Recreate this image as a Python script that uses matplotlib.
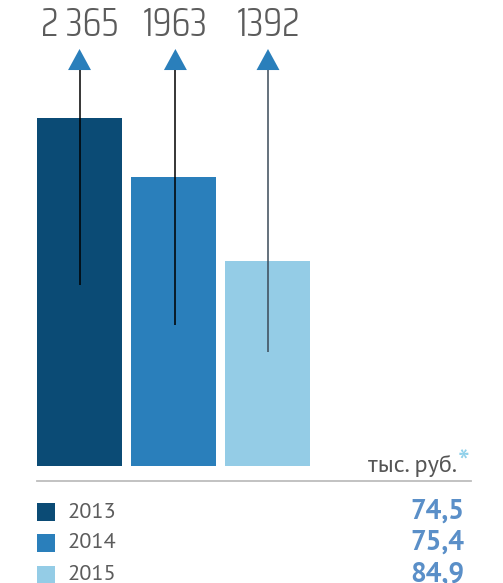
import matplotlib.pyplot as plt
from matplotlib.patches import Polygon

years = ["2013", "2014", "2015"]
totals = [2365, 1963, 1392]
total_labels = ["2 365", "1963", "1392"]
per_head = ["74,5", "75,4", "84,9"]
line_ends = [1230, 958, 775]   # where the pointer lines stop inside the bars
unit_label = "тыс. руб."

colors = ["#0b4b75", "#2a7fbb", "#94cce6"]
line_colors = ["#000000", "#000000", "#3a4a58"]
gray = "#5c5c5c"
value_blue = "#5a8fc8"
body_font = ["PT Sans", "DejaVu Sans"]

W, H = 503, 583
fig = plt.figure(figsize=(W / 100, H / 100), dpi=100)

# bar area: bottom of bars at y=466px, full figure width
ax = fig.add_axes([0, (H - 466) / H, 1, 466 / H])
ax.set_xlim(-0.846, 4.505)
ax.set_ylim(0, 3167)
ax.axis("off")

x = range(len(years))
ax.bar(x, totals, width=0.904, color=colors)

line_dx = [0.0, 0.02, 0.005]
tri_base, tri_top, tri_half = 2691, 2834, 0.122
for i in x:
    xc = i + line_dx[i]
    ax.plot([xc, xc], [line_ends[i], tri_base], color=line_colors[i], lw=1.1, solid_capstyle="butt")
    ax.add_patch(Polygon([[xc - tri_half, tri_base], [xc + tri_half, tri_base], [xc, tri_top]],
                         closed=True, color="#2a7fbb", lw=0))
    ax.text(xc, 2997, total_labels[i], ha="center", va="center", fontsize=28.5, weight=300,
            family=["Saira Condensed", "Roboto Condensed", "DejaVu Sans"], color=gray)


def px(xp, yp):
    return xp / W, 1 - yp / H


# unit label with asterisk
fig.text(*px(457, 472), unit_label, ha="right", va="baseline", fontsize=17.5,
         family=body_font, color="#555555")
fig.text(*px(458, 474), "*", ha="left", va="baseline", fontsize=24,
         family=body_font, color="#8fd0ea")

# separator
fig.add_artist(plt.Line2D([37 / W, 471 / W], [1 - 481 / H, 1 - 481 / H], color="#bdbdbd", lw=1.3))

# legend rows
row_y = [512, 543, 575]
for i, yr in enumerate(years):
    yy = row_y[i]
    fig.add_artist(plt.Rectangle(px(37, yy + 9), 18 / W, 18 / H, color=colors[i], lw=0))
    fig.text(*px(68, yy), yr, ha="left", va="center", fontsize=16, family=body_font, color=gray)
    fig.text(*px(464, yy), per_head[i], ha="right", va="center", fontsize=20,
             family=body_font, weight="bold", color=value_blue)

fig.savefig("out.png", dpi=100)
